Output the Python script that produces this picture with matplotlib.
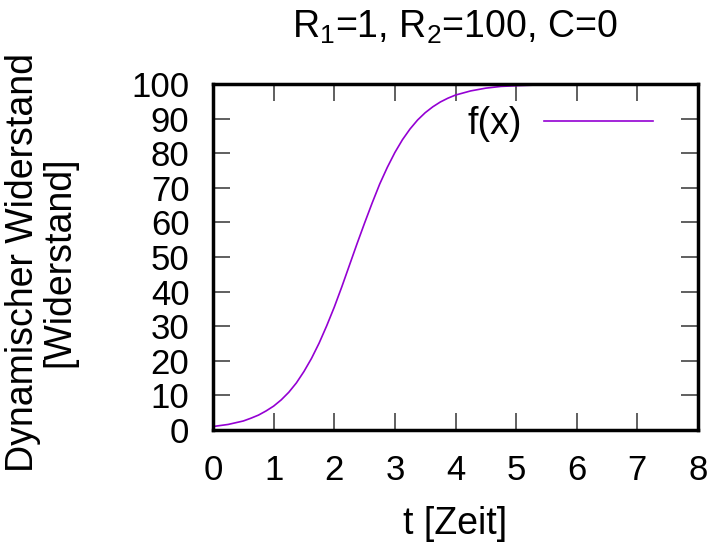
import matplotlib
matplotlib.use("Agg")
import matplotlib.pyplot as plt

plt.rcParams['font.family'] = ['Liberation Sans', 'DejaVu Sans']
plt.rcParams['mathtext.fontset'] = 'custom'
plt.rcParams['mathtext.rm'] = 'Liberation Sans'
plt.rcParams['mathtext.it'] = 'Liberation Sans'

# Data
t_values = [0, 0.125, 0.25, 0.375, 0.5, 0.625, 0.75, 0.875, 1.0, 1.125, 1.25, 1.375,
            1.5, 1.625, 1.75, 1.875, 2.0, 2.125, 2.25, 2.375, 2.5, 2.625, 2.75, 2.875,
            3.0, 3.125, 3.25, 3.375, 3.5, 3.625, 3.75, 3.875, 4.0, 4.25, 4.5, 4.75,
            5.0, 5.5, 6.0, 6.5, 7.0, 7.5, 8.0]
f_values = [1.0, 1.3, 1.6, 2.1, 2.6, 3.4, 4.3, 5.5, 6.9, 8.7, 10.9, 13.6,
            16.9, 20.7, 25.1, 30.1, 35.5, 41.4, 47.6, 53.8, 59.8, 65.6, 71.1, 75.9,
            80.2, 83.9, 87.0, 89.6, 91.7, 93.4, 94.8, 95.9, 96.8, 98.0, 98.8, 99.3,
            99.5, 99.8, 99.9, 100, 100, 100, 100]
x_ticks = [0, 1, 2, 3, 4, 5, 6, 7, 8]
y_ticks = [0, 10, 20, 30, 40, 50, 60, 70, 80, 90, 100]

title = r'R$_1$=1, R$_2$=100, C=0'
xlabel = 't [Zeit]'
ylabel = 'Dynamischer Widerstand\n[Widerstand]'
legend_label = 'f(x)'

fig = plt.figure(figsize=(7.11, 5.44), dpi=100)
ax = fig.add_axes([0.2996, 0.2096, 0.6821, 0.6360])

ax.plot(t_values, f_values, color='#9400d3', lw=1.2, label=legend_label)

ax.set_xlim(0, 8)
ax.set_ylim(0, 100)
ax.set_xticks(x_ticks)
ax.set_yticks(y_ticks)
ax.tick_params(direction='in', length=12, width=1.2, color='#444444',
               top=True, right=True, labelsize=25)
ax.tick_params(axis='y', pad=17)
ax.tick_params(axis='x', pad=17)
for s in ax.spines.values():
    s.set_linewidth(2.5)

fig.text(0.64, 0.949, title, ha='center', va='center', fontsize=27)
fig.text(0.6406, 1 - 524 / 544, xlabel, ha='center', va='center', fontsize=27)
fig.text(0.058, 0.518, ylabel, rotation=90, ha='center', va='center',
         fontsize=27, multialignment='center', linespacing=1.0)

leg = ax.legend(loc='upper right', frameon=False, fontsize=27,
                handlelength=2.9, handletextpad=0.6, markerfirst=False,
                borderaxespad=0.0, bbox_to_anchor=(0.938, 0.979))

fig.savefig('out.png', dpi=100)
